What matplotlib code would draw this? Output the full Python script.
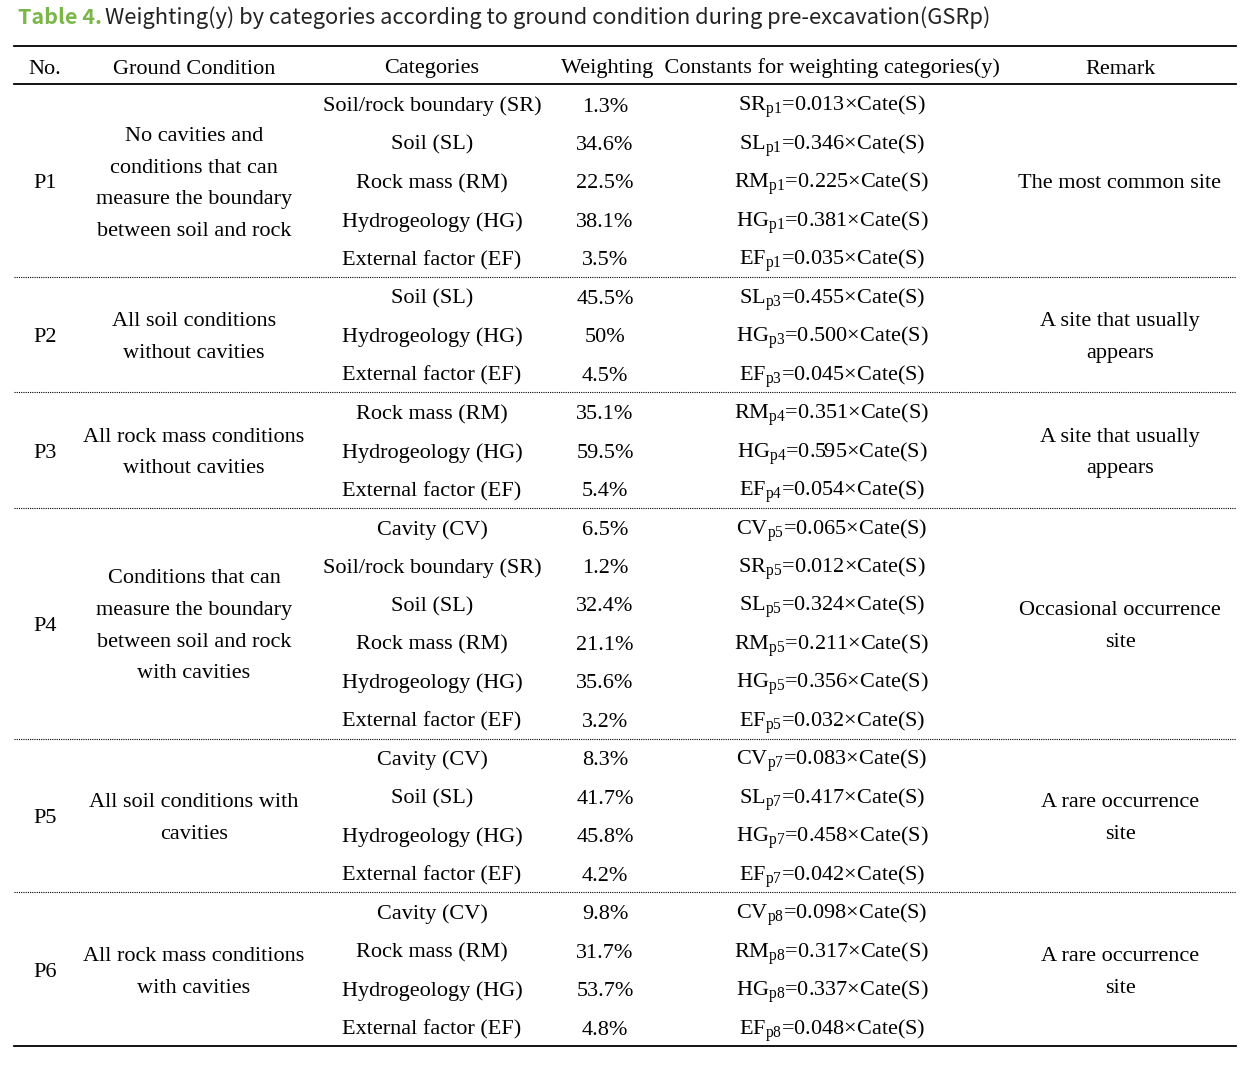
import matplotlib.pyplot as plt

plt.rcParams['mathtext.fontset'] = 'custom'
plt.rcParams['mathtext.rm'] = 'Liberation Serif'
plt.rcParams['mathtext.it'] = 'Liberation Serif:italic'

# table content
nos = ['P1', 'P2', 'P3', 'P4', 'P5', 'P6']
conditions = [
    ['No cavities and', 'conditions that can', 'measure the boundary', 'between soil and rock'],
    ['All soil conditions', 'without cavities'],
    ['All rock mass conditions', 'without cavities'],
    ['Conditions that can', 'measure the boundary', 'between soil and rock', 'with cavities'],
    ['All soil conditions with', 'cavities'],
    ['All rock mass conditions', 'with cavities'],
]
categories = [
    ['Soil/rock boundary (SR)', 'Soil (SL)', 'Rock mass (RM)', 'Hydrogeology (HG)', 'External factor (EF)'],
    ['Soil (SL)', 'Hydrogeology (HG)', 'External factor (EF)'],
    ['Rock mass (RM)', 'Hydrogeology (HG)', 'External factor (EF)'],
    ['Cavity (CV)', 'Soil/rock boundary (SR)', 'Soil (SL)', 'Rock mass (RM)', 'Hydrogeology (HG)', 'External factor (EF)'],
    ['Cavity (CV)', 'Soil (SL)', 'Hydrogeology (HG)', 'External factor (EF)'],
    ['Cavity (CV)', 'Rock mass (RM)', 'Hydrogeology (HG)', 'External factor (EF)'],
]
weights = [
    ['1.3%', '34.6%', '22.5%', '38.1%', '3.5%'],
    ['45.5%', '50%', '4.5%'],
    ['35.1%', '59.5%', '5.4%'],
    ['6.5%', '1.2%', '32.4%', '21.1%', '35.6%', '3.2%'],
    ['8.3%', '41.7%', '45.8%', '4.2%'],
    ['9.8%', '31.7%', '53.7%', '4.8%'],
]
codes = [
    ['SR', 'SL', 'RM', 'HG', 'EF'],
    ['SL', 'HG', 'EF'],
    ['RM', 'HG', 'EF'],
    ['CV', 'SR', 'SL', 'RM', 'HG', 'EF'],
    ['CV', 'SL', 'HG', 'EF'],
    ['CV', 'RM', 'HG', 'EF'],
]
subs = ['p1', 'p3', 'p4', 'p5', 'p7', 'p8']
constants = [
    ['0.013', '0.346', '0.225', '0.381', '0.035'],
    ['0.455', '0.500', '0.045'],
    ['0.351', '0.595', '0.054'],
    ['0.065', '0.012', '0.324', '0.211', '0.356', '0.032'],
    ['0.083', '0.417', '0.458', '0.042'],
    ['0.098', '0.317', '0.337', '0.048'],
]
remarks = [
    ['The most common site'],
    ['A site that usually', 'appears'],
    ['A site that usually', 'appears'],
    ['Occasional occurrence', 'site'],
    ['A rare occurrence', 'site'],
    ['A rare occurrence', 'site'],
]
headers = ['No.', 'Ground Condition', 'Categories',
           'Weighting  Constants for weighting categories(y)', 'Remark']

fig = plt.figure(figsize=(12.6, 10.66), dpi=100)
ax = fig.add_axes([0, 0, 1, 1])
ax.set_xlim(0, 1260)
ax.set_ylim(1066, 0)
ax.axis('off')

serif = 'Liberation Serif'
fs = 16
col_x = [45, 194, 432, 605, 832, 1120]
x0, x1 = 14, 1236
row_h = 38.46
first_row = 104
line_gap = 31.7
bl = 7.5  # baseline offset below visual centre


def cell(x, y, s):
    ax.text(x, y + bl, s, fontsize=fs, family=serif, ha='center', va='baseline')


# title
ax.text(18, 18, 'Table 4.', color='#7ab648', fontsize=15.5, fontweight='bold',
        family='Noto Sans CJK KR', va='center', ha='left')
ax.text(105, 18, 'Weighting(y) by categories according to ground condition during pre-excavation(GSRp)',
        color='#222222', fontsize=15.8, family='Noto Sans CJK KR', va='center', ha='left')

# header
ax.plot([x0, x1], [46, 46], color='black', lw=1.3)
ax.plot([x0, x1], [84, 84], color='black', lw=1.3)
hx = [45, 194, 432, 780, 1120]
for h, x in zip(headers, hx):
    cell(x, 66, h)

row = 0
for g in range(len(nos)):
    n = len(categories[g])
    ys = [first_row + (row + i) * row_h for i in range(n)]
    yc = (ys[0] + ys[-1]) / 2
    cell(col_x[0], yc, nos[g])
    lines = conditions[g]
    for k, t in enumerate(lines):
        cell(col_x[1], yc + (k - (len(lines) - 1) / 2) * line_gap, t)
    rl = remarks[g]
    for k, t in enumerate(rl):
        cell(col_x[5], yc + (k - (len(rl) - 1) / 2) * line_gap, t)
    for i in range(n):
        cell(col_x[2], ys[i], categories[g][i])
        cell(col_x[3], ys[i], weights[g][i])
        formula = r'$\mathrm{%s}_{\mathrm{%s}}$=%s×Cate(S)' % (codes[g][i], subs[g], constants[g][i])
        cell(col_x[4], ys[i], formula)
    row += n
    ysep = ys[-1] + row_h / 2
    if g < len(nos) - 1:
        ax.plot([x0, x1], [ysep, ysep], color='black', lw=0.8, linestyle=(0, (1, 1)))
    else:
        ax.plot([x0, x1], [ysep, ysep], color='black', lw=1.3)

fig.savefig('out.png', dpi=100)
